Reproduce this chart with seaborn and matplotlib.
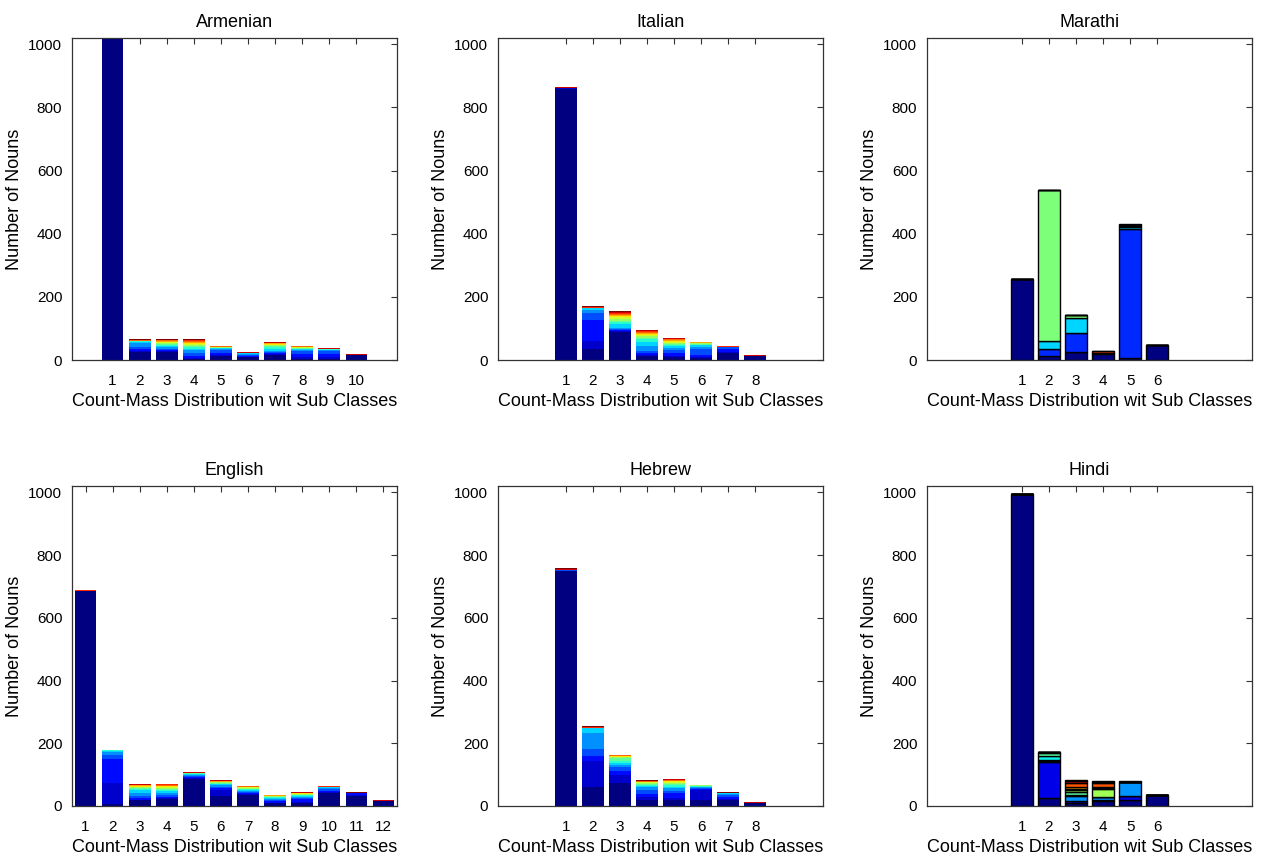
import numpy as np
import pandas as pd
import matplotlib
matplotlib.use("Agg")
import matplotlib.pyplot as plt
import seaborn as sns

# ---------------- data (stack segments per bar, bottom -> top, by sub class) ----------------
armenian_stacks = [
    [1150, 0, 0, 0, 0, 0, 0, 0, 0, 0, 0, 0, 0, 0, 0, 0],
    [24, 4, 6, 8, 12, 4, 2, 1, 0, 0, 0, 0, 1, 1, 1, 1],
    [26, 3, 3, 4, 5, 4, 4, 3, 2, 2, 2, 2, 2, 1, 1, 1],
    [3, 4, 6, 10, 8, 5, 5, 4, 3, 3, 3, 3, 3, 2, 2, 1],
    [12, 4, 6, 10, 3, 2, 1, 1, 1, 1, 1, 0, 1, 1, 0, 0],
    [8, 3, 3, 3, 2, 2, 1, 0, 0, 0, 0, 0, 0, 1, 1, 0],
    [15, 3, 3, 3, 5, 6, 5, 4, 3, 2, 2, 2, 1, 1, 1, 1],
    [4, 4, 10, 10, 3, 3, 2, 2, 1, 1, 1, 1, 1, 1, 0, 0],
    [3, 5, 12, 10, 2, 1, 1, 0, 0, 0, 0, 0, 1, 1, 1, 0],
    [15, 1, 0, 0, 0, 0, 0, 0, 0, 0, 0, 0, 0, 1, 1, 1],
]
italian_stacks = [
    [858, 2, 1, 1, 0, 0, 0, 0, 0, 0, 0, 0, 0, 1, 2, 1],
    [35, 25, 66, 24, 7, 8, 1, 0, 0, 0, 0, 0, 0, 1, 2, 2],
    [88, 3, 3, 3, 5, 12, 6, 5, 5, 5, 4, 4, 4, 3, 3, 1],
    [12, 3, 6, 8, 16, 12, 8, 6, 5, 4, 3, 3, 3, 3, 2, 1],
    [10, 3, 8, 12, 4, 6, 5, 4, 3, 3, 3, 2, 2, 2, 2, 1],
    [6, 3, 8, 18, 6, 5, 3, 2, 2, 1, 1, 1, 1, 0, 0, 1],
    [22, 4, 10, 5, 1, 0, 0, 0, 0, 0, 0, 0, 0, 1, 1, 0],
    [12, 1, 0, 0, 0, 0, 0, 0, 0, 0, 0, 0, 0, 1, 1, 0],
]
marathi_stacks = [
    [257, 0, 0, 0, 0, 0, 0],
    [13, 21, 25, 479, 0, 0, 0],
    [25, 62, 47, 9, 0, 0, 0],
    [20, 3, 0, 0, 0, 4, 2],
    [5, 410, 6, 3, 3, 2, 2],
    [48, 0, 0, 0, 0, 0, 0],
]
english_stacks = [
    [686, 0, 0, 0, 0, 0, 0, 0, 0, 0, 0, 0, 0, 1, 2, 1],
    [5, 67, 78, 14, 8, 4, 1, 0, 0, 0, 0, 0, 0, 1, 1, 1],
    [18, 2, 4, 8, 10, 8, 4, 3, 3, 2, 2, 2, 1, 1, 1, 1],
    [22, 3, 5, 6, 6, 6, 4, 3, 3, 3, 2, 2, 2, 2, 1, 0],
    [86, 3, 4, 4, 3, 2, 1, 1, 1, 0, 0, 0, 0, 1, 1, 0],
    [33, 18, 6, 5, 4, 3, 2, 2, 2, 2, 1, 1, 1, 1, 1, 0],
    [34, 4, 4, 3, 3, 3, 2, 2, 2, 2, 2, 1, 1, 1, 1, 0],
    [8, 3, 5, 4, 3, 3, 2, 2, 1, 1, 1, 1, 1, 1, 0, 0],
    [8, 4, 10, 4, 3, 3, 2, 2, 2, 1, 1, 1, 1, 1, 1, 0],
    [40, 5, 4, 4, 5, 3, 1, 0, 0, 0, 0, 0, 0, 1, 1, 1],
    [33, 3, 4, 1, 0, 0, 0, 0, 0, 0, 0, 0, 0, 1, 1, 1],
    [15, 1, 0, 0, 0, 0, 0, 0, 0, 0, 0, 0, 0, 1, 1, 1],
]
hebrew_stacks = [
    [748, 1, 1, 1, 0, 0, 0, 0, 0, 0, 0, 0, 0, 2, 3, 3],
    [59, 86, 15, 22, 51, 16, 1, 0, 0, 0, 0, 0, 0, 1, 2, 2],
    [72, 26, 14, 12, 6, 6, 8, 8, 3, 2, 2, 1, 1, 1, 1, 0],
    [19, 10, 10, 12, 8, 5, 4, 3, 2, 2, 2, 1, 1, 1, 1, 1],
    [19, 6, 15, 8, 8, 6, 5, 4, 3, 3, 2, 2, 2, 1, 1, 1],
    [20, 30, 4, 3, 3, 2, 2, 1, 1, 0, 0, 0, 0, 1, 1, 0],
    [18, 4, 8, 4, 4, 2, 1, 0, 0, 0, 0, 0, 0, 1, 1, 1],
    [8, 1, 1, 0, 0, 0, 0, 0, 0, 0, 0, 0, 0, 1, 1, 0],
]
hindi_stacks = [
    [995, 0, 0, 0, 0, 0, 0, 0, 0, 0, 0, 0],
    [25, 115, 4, 4, 10, 12, 3, 0, 0, 0, 0, 0],
    [10, 6, 0, 16, 4, 8, 6, 5, 5, 14, 5, 5],
    [15, 3, 0, 10, 0, 0, 26, 3, 3, 12, 4, 3],
    [20, 12, 0, 43, 0, 0, 0, 0, 0, 0, 2, 2],
    [34, 0, 0, 0, 0, 0, 0, 0, 0, 0, 0, 0],
]

titles = ["Armenian", "Italian", "Marathi", "English", "Hebrew", "Hindi"]
all_stacks = [armenian_stacks, italian_stacks, marathi_stacks,
              english_stacks, hebrew_stacks, hindi_stacks]
x_limits = [(-0.5, 11.5), (-1.5, 10.5), (-2.5, 9.5),
            (0.5, 12.5), (-1.5, 10.5), (-2.5, 9.5)]
outlined = [False, False, True, False, False, True]
y_ticks = [0, 200, 400, 600, 800, 1000]
x_label = "Count-Mass Distribution wit Sub Classes"
y_label = "Number of Nouns"

# ---------------- style ----------------
sns.set_style("white")
plt.rcParams["font.family"] = ["Liberation Sans", "DejaVu Sans"]
plt.rcParams["text.color"] = "black"
plt.rcParams["axes.labelcolor"] = "black"
plt.rcParams["xtick.color"] = "black"
plt.rcParams["ytick.color"] = "black"

fig = plt.figure(figsize=(12.63, 8.59), dpi=100)
lefts = [0.0570, 0.3943, 0.7340]
width = 0.2573
rows = [(0.5809, 0.3749), (0.0617, 0.3725)]

for i, (title, stacks) in enumerate(zip(titles, all_stacks)):
    r, c = divmod(i, 3)
    ax = fig.add_axes([lefts[c], rows[r][0], width, rows[r][1]])
    n_sub = len(stacks[0])
    records = []
    for b, segs in enumerate(stacks, start=1):
        for s, v in enumerate(segs):
            records.append({"bar": b, "sub": f"s{s:02d}", "count": v})
    df = pd.DataFrame(records)
    levels = [f"s{s:02d}" for s in range(n_sub)]
    cols = plt.cm.jet(np.linspace(0, 1, n_sub))
    palette = dict(zip(levels, cols))
    if outlined[i]:
        ekw = dict(edgecolor="black", linewidth=1.0)
    else:
        ekw = dict(edgecolor="none", linewidth=0)
    sns.histplot(data=df, x="bar", weights="count", hue="sub",
                 hue_order=levels[::-1], palette=palette,
                 multiple="stack", discrete=True, shrink=0.8,
                 alpha=1, legend=False, ax=ax, **ekw)
    ax.set_xlim(*x_limits[i])
    ax.set_ylim(0, 1020)
    ax.set_xticks(range(1, len(stacks) + 1))
    ax.set_yticks(y_ticks)
    ax.tick_params(direction="in", top=True, right=True, length=4,
                   width=0.8, labelsize=11, color="#333333")
    ax.tick_params(axis="x", pad=10)
    ax.tick_params(axis="y", pad=7)
    for sp in ax.spines.values():
        sp.set_visible(True)
        sp.set_color("#333333")
        sp.set_linewidth(0.9)
    ax.set_title(title, fontsize=13, pad=8)
    ax.set_xlabel(x_label, fontsize=13, labelpad=4)
    ax.set_ylabel(y_label, fontsize=13, labelpad=4)

fig.savefig("out.png", dpi=100)
